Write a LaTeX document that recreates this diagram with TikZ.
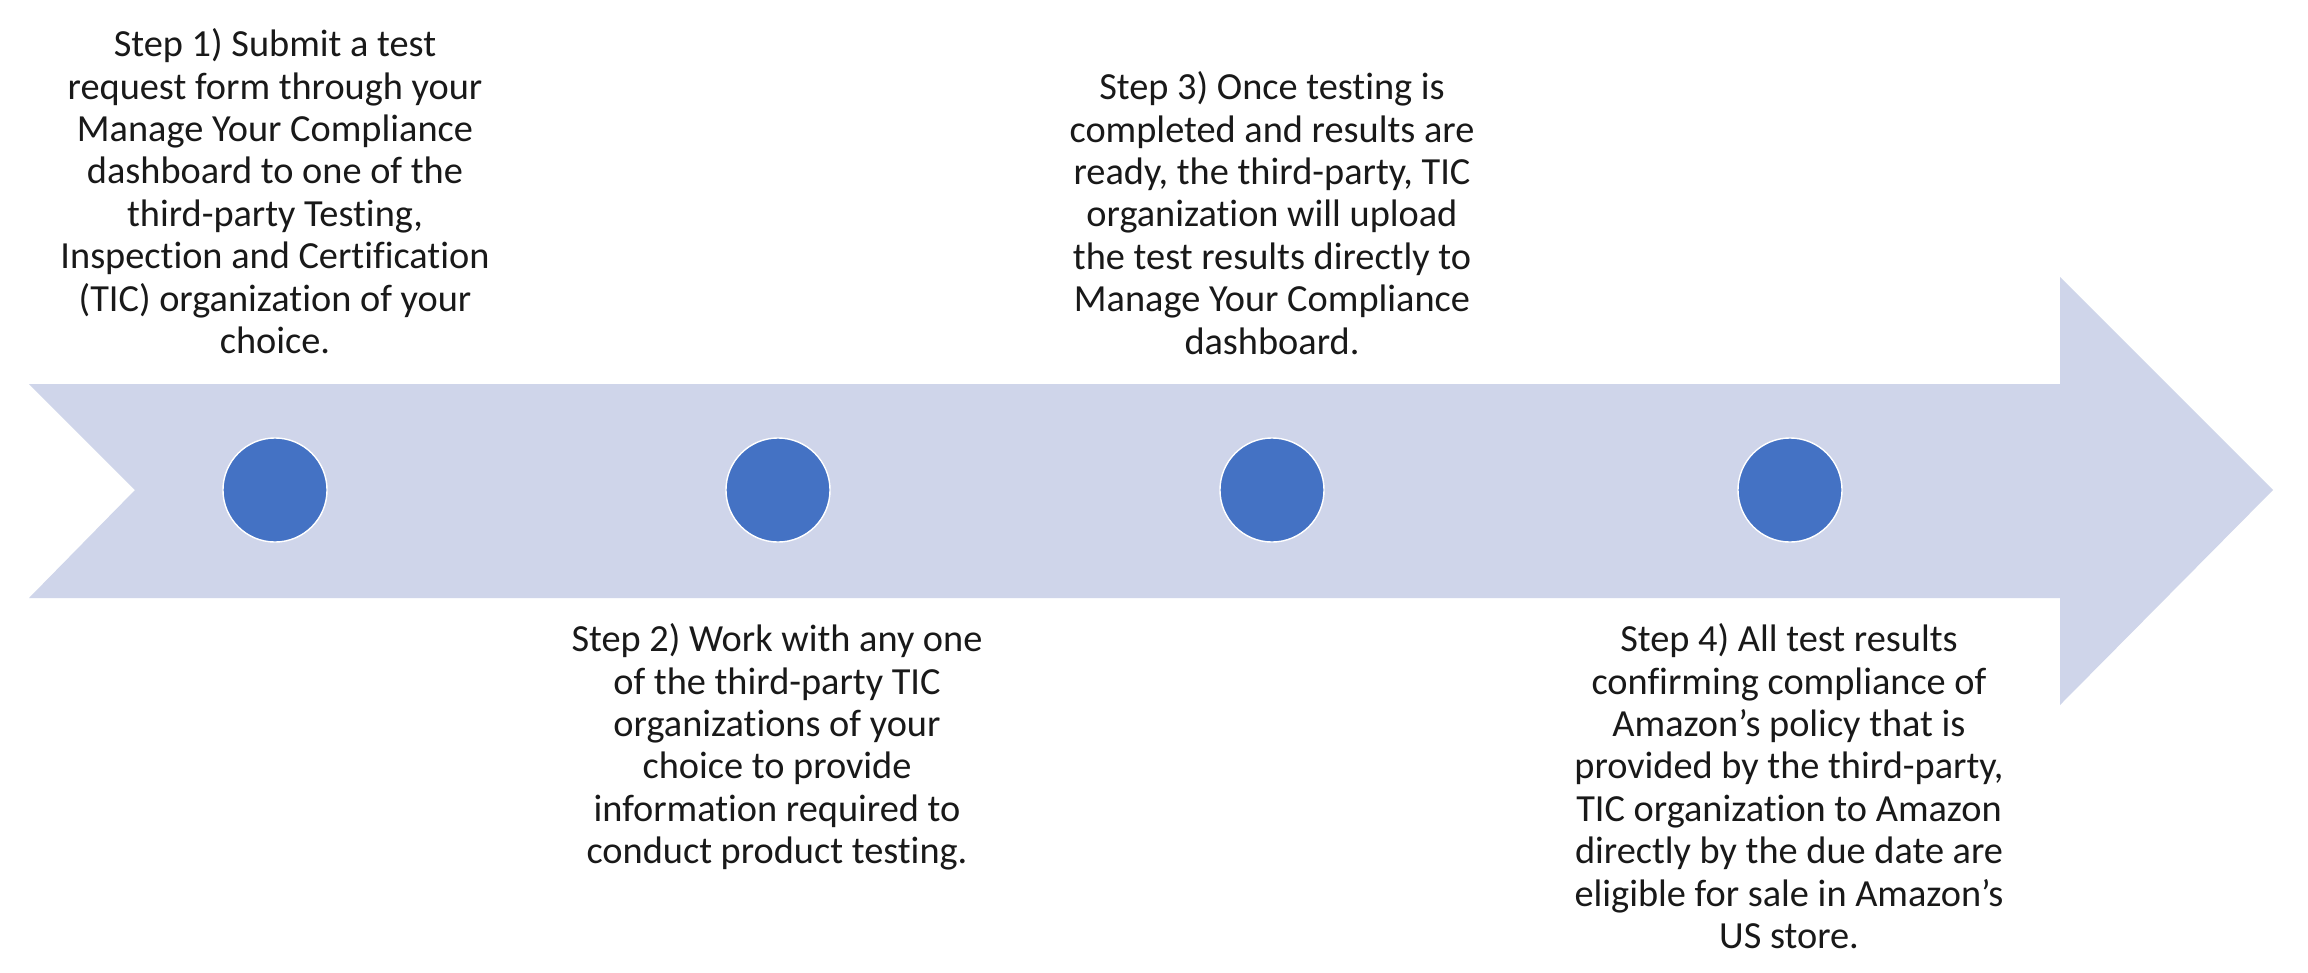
\documentclass[tikz,border=0pt]{standalone}
\usepackage{fontspec}
\setmainfont{Carlito}[Ligatures=NoCommon]
\usepackage{tikz}
\usetikzlibrary{positioning, calc}
\usepackage{xcolor}
\definecolor{bandblue}{HTML}{CFD5EA}
\definecolor{dotblue}{HTML}{4472C4}
\tikzstyle{steptext} = [anchor=north, align=center, inner sep=0pt, text=black!90, font=\fontsize{10.9}{12.05}\selectfont]
\tikzstyle{dot} = [circle, minimum size=1.04cm, inner sep=0pt, fill=dotblue, draw=white, line width=0.4pt]

\begin{document}
\begin{tikzpicture}[x=0.01cm, y=-0.01cm]
    \useasboundingbox (0,0) rectangle (2308,972);
    \fill[white] (0,0) rectangle (2308,972);

    % Timeline arrow
    \fill[bandblue] (29,384) -- (2060,384) -- (2060,277) -- (2273,490) -- (2060,705) -- (2060,598) -- (29,598) -- (135,490) -- cycle;

    % Step dots
    \node (d1) [dot] at (275,490) {};
    \node (d2) [dot] at (778,490) {};
    \node (d3) [dot] at (1272,490) {};
    \node (d4) [dot] at (1790,490) {};

    % Step texts
    \node (s1) [steptext] at (275,28) {Step 1) Submit a test\\request form through your\\Manage Your Compliance\\dashboard to one of the\\third-party Testing,\\Inspection and Certification\\(TIC) organization of your\\choice.};
    \node (s3) [steptext] at (1272,71) {Step 3) Once testing is\\completed and results are\\ready, the third-party, TIC\\organization will upload\\the test results directly to\\Manage Your Compliance\\dashboard.};
    \node (s2) [steptext] at (777,623) {Step 2) Work with any one\\of the third-party TIC\\organizations of your\\choice to provide\\information required to\\conduct product testing.};
    \node (s4) [steptext] at (1789,623) {Step 4) All test results\\confirming compliance of\\Amazon’s policy that is\\provided by the third-party,\\TIC organization to Amazon\\directly by the due date are\\eligible for sale in Amazon’s\\US store.};
\end{tikzpicture}
\end{document}
